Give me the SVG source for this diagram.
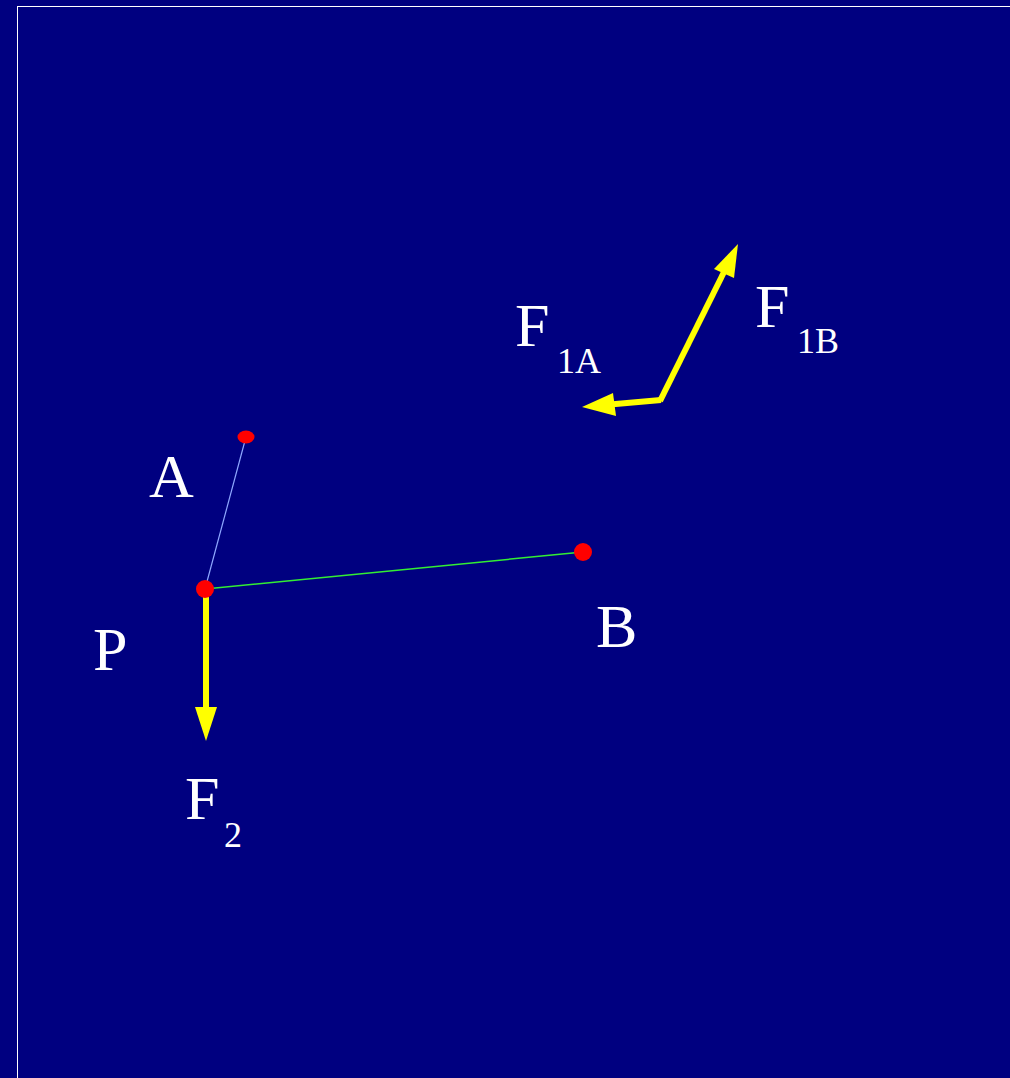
<svg xmlns="http://www.w3.org/2000/svg" width="1010" height="1078" viewBox="0 0 1010 1078">
<style>
.lbl{font-family:"Liberation Serif","Times New Roman",serif;fill:#ffffff;font-size:62px}
.sub{font-size:36px}
.force{stroke:#ffff00;stroke-width:6;fill:none}
.head{fill:#ffff00}
.dot{fill:#ff0000}
</style>
<rect x="0" y="0" width="1010" height="1078" fill="#000080"/>
<rect x="17.5" y="6.5" width="1100" height="1200" fill="none" stroke="#ffffff" stroke-width="1"/>
<g id="connectors">
<line x1="205" y1="589" x2="246" y2="437" stroke="#8fa8ff" stroke-width="1.2"/>
<line x1="205" y1="589" x2="583" y2="552" stroke="#33ee33" stroke-width="1.5"/>
<g id="F2-arrow">
<line class="force" x1="206" y1="595" x2="206" y2="710" stroke-width="7"/>
<polygon class="head" points="195,707 217,707 206,741"/>
</g>
<g id="F1A-arrow">
<line class="force" x1="661" y1="400" x2="610" y2="404.5"/>
<polygon class="head" points="582,407 613,393 616,416"/>
</g>
<g id="F1B-arrow">
<line class="force" x1="660" y1="401" x2="726" y2="268"/>
<polygon class="head" points="738,244 734,278 714,269"/>
</g>
</g>
<g id="A"><ellipse class="dot" cx="246" cy="437" rx="8.5" ry="6.5"/><text class="lbl" x="149" y="497">A</text></g>
<g id="P"><circle class="dot" cx="205" cy="589" r="9"/><text class="lbl" x="93" y="670">P</text></g>
<g id="B"><circle class="dot" cx="583" cy="552" r="9"/><text class="lbl" x="596" y="647">B</text></g>
<g id="F1A"><text class="lbl" x="515" y="346">F</text><text class="lbl sub" x="557" y="373">1A</text></g>
<g id="F1B"><text class="lbl" x="755" y="327">F</text><text class="lbl sub" x="797" y="353">1B</text></g>
<g id="F2"><text class="lbl" x="185" y="819">F</text><text class="lbl sub" x="224" y="847">2</text></g>
</svg>
